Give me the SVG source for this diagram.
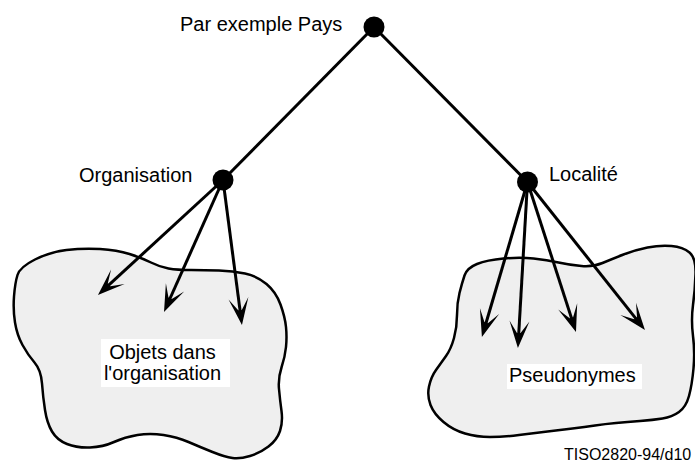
<svg xmlns="http://www.w3.org/2000/svg" width="695" height="462" viewBox="0 0 695 462">
<style>
  .blob { fill: #efefef; stroke: #000; stroke-width: 2.5; stroke-linejoin: round; }
  .lbl { font-family: "Liberation Sans", Arial, sans-serif; font-size: 20px; fill: #000; }
  .small { font-family: "Liberation Sans", Arial, sans-serif; font-size: 16px; fill: #000; }
  .edge { stroke: #000; stroke-width: 3; fill: none; }
  .arrow { stroke: #000; stroke-width: 3; fill: none; marker-end: url(#head); }
  .dot { fill: #000; }
  .box { fill: #fff; }
</style>
<defs>
  <marker id="head" markerUnits="userSpaceOnUse" markerWidth="40" markerHeight="30" refX="-12" refY="0" orient="auto" overflow="visible">
    <path d="M0,0 L-27,-10 L-15,-1.8 L-15,1.8 L-27,10 Z" fill="#000"/>
  </marker>
</defs>
<rect width="695" height="462" fill="#fff"/>

<g id="objets">
  <path class="blob" d="M35,259.5 Q50,252 66.5,250 Q83,248 100,249 Q117,250 129.5,254 Q142,258 151,262.5 Q160,267 168.5,268.5 Q177,270 191,270 Q205,270 219,270.5 Q233,271 245,273.5 Q257,276 266.5,284 Q276,292 280.5,304.5 Q285,317 286,327 Q287,337 286,347 Q285,357 281.5,367.5 Q278,378 279,389 Q280,400 281.5,411 Q283,422 280,431 Q277,440 268.5,446.5 Q260,453 250,456 Q240,459 232.5,458 Q225,457 212.5,452 Q200,447 188.5,442 Q177,437 163.5,435 Q150,433 137.5,435 Q125,437 114,442 Q103,447 90,447.5 Q77,448 67,444 Q57,440 52,431.5 Q47,423 45,410 Q43,397 42,383.5 Q41,370 34.5,362.5 Q28,355 22.5,345 Q17,335 15,322.5 Q13,310 14,296.5 Q15,283 17.5,275 Q20,267 35,259.5 Z"/>
</g>
<g id="pseudonymes">
  <path class="blob" d="M477,264 Q487,260 503.5,258.5 Q520,257 533.5,258.5 Q547,260 558.5,262.5 Q570,265 581.5,266 Q593,267 602.5,263 Q612,259 623.5,254.5 Q635,250 647.5,247.5 Q660,245 671.5,246 Q683,247 689.5,252.5 Q696,258 695.5,274 Q695,290 693,305 Q691,320 693,336 Q695,352 693.5,368.5 Q692,385 689,396 Q686,407 679,412 Q672,417 662.5,418.5 Q653,420 640,421 Q627,422 616,423 Q605,424 595,425.5 Q585,427 572.5,428.5 Q560,430 547.5,431.5 Q535,433 519,435 Q503,437 490,437 Q477,437 465,433.5 Q453,430 443.5,422 Q434,414 430.5,405 Q427,396 429,386.5 Q431,377 436,370 Q441,363 446,356 Q451,349 454,338 Q457,327 457,315 Q457,303 459.5,293 Q462,283 464.5,275.5 Q467,268 477,264 Z"/>
</g>

<g id="connectors">
  <line class="edge" x1="374" y1="27" x2="223" y2="180"/>
  <line class="edge" x1="374" y1="27" x2="527.5" y2="182"/>
  <line class="arrow" x1="223" y1="180" x2="106.8" y2="286.9"/>
  <line class="arrow" x1="223" y1="180" x2="168.9" y2="301"/>
  <line class="arrow" x1="223" y1="180" x2="240.4" y2="313.1"/>
  <line class="arrow" x1="527.5" y1="182" x2="485.3" y2="325.5"/>
  <line class="arrow" x1="527.5" y1="182" x2="518.6" y2="336"/>
  <line class="arrow" x1="527.5" y1="182" x2="572.3" y2="320.6"/>
  <line class="arrow" x1="527.5" y1="182" x2="637.5" y2="320.6"/>
</g>

<g id="pays">
  <circle class="dot" cx="374" cy="27" r="10.5"/>
  <text class="lbl" x="180" y="31">Par exemple Pays</text>
</g>
<g id="organisation">
  <circle class="dot" cx="223" cy="180" r="10.5"/>
  <text class="lbl" x="79" y="182">Organisation</text>
</g>
<g id="localite">
  <circle class="dot" cx="527.5" cy="182" r="10.5"/>
  <text class="lbl" x="549" y="181">Localité</text>
</g>

<g id="objets-label">
  <rect class="box" x="101" y="339" width="129" height="48"/>
  <text class="lbl" x="162.5" y="358.5" text-anchor="middle">Objets dans</text>
  <text class="lbl" x="162.5" y="380" text-anchor="middle">l'organisation</text>
</g>
<g id="pseudonymes-label">
  <rect class="box" x="507" y="364" width="135" height="25"/>
  <text class="lbl" x="509" y="382">Pseudonymes</text>
</g>

<text class="small" x="564" y="460">TISO2820-94/d10</text>
</svg>
